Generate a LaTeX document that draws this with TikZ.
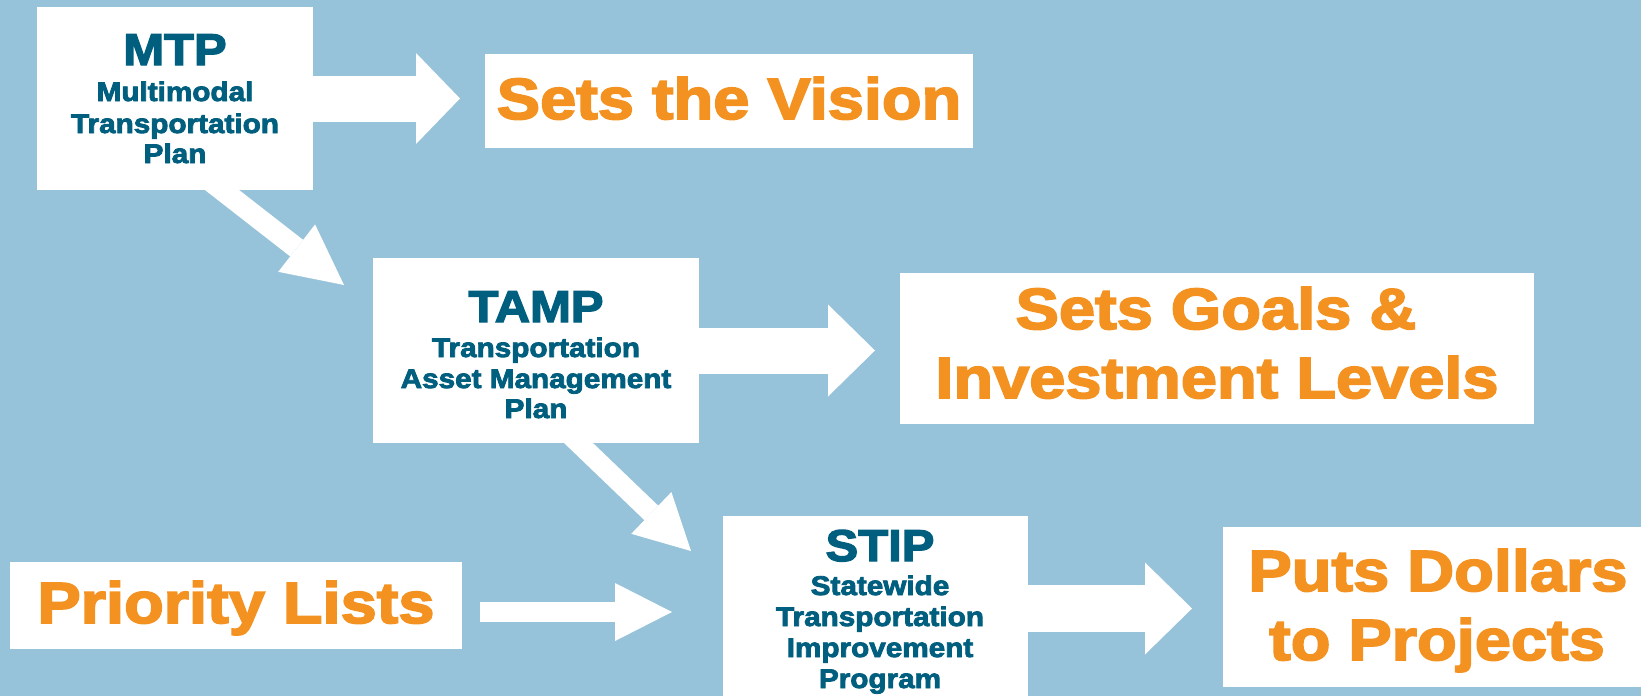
\documentclass[tikz,border=0pt]{standalone}
\usepackage{fontspec}
\usetikzlibrary{arrows.meta}
\newfontfamily\dfont[FakeStretch=1.1,FakeBold=3]{Liberation Sans}
\newfontfamily\ofont[FakeStretch=1.12,FakeBold=3]{Liberation Sans}
\definecolor{bgblue}{RGB}{150,195,218}
\definecolor{teal}{RGB}{0,94,126}
\definecolor{orng}{RGB}{243,146,32}
\pgfdeclarelayer{back}
\pgfsetlayers{back,main}
\tikzset{
  box/.style={fill=white, draw=none, inner sep=0pt, outer sep=0pt},
  ttl/.style={anchor=base, inner sep=0pt, text=teal, font=\dfont\bfseries\fontsize{44.5}{50}\selectfont},
  sub/.style={anchor=base, inner sep=0pt, text=teal, font=\dfont\bfseries\fontsize{27}{31}\selectfont},
  otx/.style={anchor=base, inner sep=0pt, text=orng, font=\ofont\bfseries\fontsize{58}{69}\selectfont},
  blk/.style n args={3}{draw=white, line width=#1, line cap=butt,
    -{Triangle[width=#2,length=#3,line width=0pt]}},
}
\begin{document}
\begin{tikzpicture}[x=1pt,y=-1pt]
\useasboundingbox (0,0) rectangle (1641,696);
\begin{pgfonlayer}{back}
\fill[bgblue] (0,0) rectangle (1641,696);
\end{pgfonlayer}
% boxes
\node[box, minimum width=276pt, minimum height=183pt] (mtp) at (175,98.5) {};
\node[box, minimum width=488pt, minimum height=94pt] (vis) at (729,101) {};
\node[box, minimum width=326pt, minimum height=185pt] (tamp) at (536,350.5) {};
\node[box, minimum width=634pt, minimum height=151pt] (goals) at (1217,348.5) {};
\node[box, minimum width=452pt, minimum height=87pt] (prio) at (236,605.5) {};
\node[box, minimum width=305pt, minimum height=180pt] (stip) at (875.5,606) {};
\node[box, minimum width=418pt, minimum height=160pt] (puts) at (1432,607) {};
% texts
\node[ttl] (mtpt) at (175,65) {MTP};
\node[sub] (mtp1) at (175,101) {Multimodal};
\node[sub] (mtp2) at (175,133) {Transportation};
\node[sub] (mtp3) at (175,163) {Plan};
\node[ttl] (tampt) at (536,322) {TAMP};
\node[sub] (tamp1) at (536,357) {Transportation};
\node[sub] (tamp2) at (536,388) {Asset Management};
\node[sub] (tamp3) at (536,418) {Plan};
\node[ttl] (stipt) at (880,561) {STIP};
\node[sub] (stip1) at (880,595) {Statewide};
\node[sub] (stip2) at (880,626) {Transportation};
\node[sub] (stip3) at (880,657) {Improvement};
\node[sub] (stip4) at (880,688) {Program};
\node[otx] (vist) at (729,119) {Sets the Vision};
\node[otx] (goals1) at (1216,329) {Sets Goals \&};
\node[otx] (goals2) at (1217,398) {Investment Levels};
\node[otx] (priot) at (236,623) {Priority Lists};
\node[otx] (puts1) at (1438,591) {Puts Dollars};
\node[otx] (puts2) at (1437,660) {to Projects};
% arrows (behind boxes)
\coordinate (s3) at ([shift={(18,6.5)}]prio.east);
\coordinate (s4) at ([shift={(-13,2.5)}]stip.east);
\begin{pgfonlayer}{back}
\draw[blk={46pt}{91pt}{44pt}] ([xshift=-13pt]mtp.east) -- ([xshift=-25pt]vis.west |- mtp.east);
\draw[blk={46pt}{92pt}{47pt}] ([xshift=-13pt]tamp.east) -- ([xshift=-25pt]goals.west |- tamp.east);
\draw[blk={20pt}{58pt}{57pt}] (s3) -- ([xshift=-51pt]stip.west |- s3);
\draw[blk={47pt}{92pt}{47pt}] (s4) -- ([xshift=-31pt]puts.west |- s4);
\draw[blk={21pt}{60pt}{60pt}, shorten <=-15pt] ([xshift=47pt]mtp.south) -- ([shift={(-29,27)}]tamp.north west);
\draw[blk={20pt}{58pt}{55pt}, shorten <=-15pt] ([xshift=42.5pt]tamp.south) -- ([shift={(-32,35)}]stip.north west);
\end{pgfonlayer}
\end{tikzpicture}
\end{document}
